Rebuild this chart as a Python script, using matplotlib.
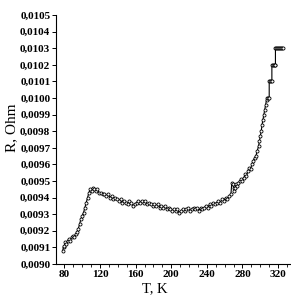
import matplotlib
matplotlib.use("Agg")
import matplotlib.pyplot as plt
from matplotlib.ticker import MultipleLocator, FuncFormatter

T = [78, 79, 80, 81, 82, 83.5, 85, 86.5, 88, 89.5, 91, 92.5, 94, 95.5, 97, 98.5,
     100, 101.5, 103, 104.5, 106, 107.5, 109, 110.5, 112, 113.5, 115, 117, 119,
     121, 123, 125, 127, 129, 131, 133, 135, 137, 139, 141, 143, 145, 147, 149,
     151, 153, 155, 157, 159, 161, 163, 165, 167, 169, 171, 173, 175, 177, 179,
     181, 183, 185, 187, 189, 191, 193, 195, 197, 199, 201, 203, 205, 207, 209,
     211, 213, 215, 217, 219, 221, 223, 225, 227, 229, 231, 233, 235, 237, 239,
     241, 243, 245, 247, 249, 251, 253, 255, 257, 259, 261, 263, 265, 267, 268,
     269, 270, 271, 272, 273, 274, 275.5, 277, 278.5, 280, 281.5, 283, 284.5,
     286, 287.5, 289, 290.5, 292, 293.5, 295, 296.5, 298, 299, 300, 301, 302,
     303, 304, 305, 306, 307, 308, 309, 310,
     310, 311, 312, 313,
     313, 314, 315, 316, 317,
     317, 318, 319, 320, 321, 322, 323, 324, 325]
R = [0.00908, 0.00910, 0.00911, 0.00913, 0.00912, 0.00914, 0.00915, 0.00914,
     0.00916, 0.00917, 0.00916, 0.00918, 0.00919, 0.00921, 0.00924, 0.00927,
     0.00929, 0.00931, 0.00934, 0.00937, 0.00940, 0.00943, 0.00945, 0.00944,
     0.00946, 0.00945, 0.00944, 0.00945, 0.00943, 0.00943, 0.00942, 0.00942,
     0.00941, 0.00942, 0.00940, 0.00941, 0.00939, 0.00940, 0.00939, 0.00938,
     0.00939, 0.00937, 0.00938, 0.00937, 0.00936, 0.00938, 0.00937, 0.00935,
     0.00936, 0.00937, 0.00938, 0.00937, 0.00938, 0.00937, 0.00938, 0.00936,
     0.00937, 0.00936, 0.00935, 0.00936, 0.00935, 0.00936, 0.00934, 0.00935,
     0.00934, 0.00935, 0.00933, 0.00934, 0.00933, 0.00932, 0.00933, 0.00932,
     0.00933, 0.00931, 0.00932, 0.00933, 0.00932, 0.00933, 0.00934, 0.00932,
     0.00933, 0.00934, 0.00933, 0.00934, 0.00932, 0.00934, 0.00933, 0.00934,
     0.00935, 0.00934, 0.00936, 0.00935, 0.00937, 0.00936, 0.00937, 0.00938,
     0.00937, 0.00939, 0.00938, 0.00940, 0.00939, 0.00941, 0.00942, 0.00949,
     0.00948, 0.00946, 0.00944, 0.00946, 0.00948, 0.00947, 0.00949, 0.00950,
     0.00951, 0.00950, 0.00952, 0.00954, 0.00953, 0.00956, 0.00958, 0.00957,
     0.00960, 0.00962, 0.00964, 0.00965, 0.00968, 0.00971, 0.00974, 0.00977,
     0.00980, 0.00984, 0.00987, 0.00990, 0.00993, 0.00996, 0.00999, 0.01000,
     0.01000, 0.01000,
     0.01010, 0.01010, 0.01010, 0.01010,
     0.01020, 0.01020, 0.01020, 0.01020, 0.01020,
     0.01030, 0.01030, 0.01030, 0.01030, 0.01030, 0.01030, 0.01030, 0.01030,
     0.01030]

x_ticks = [80, 120, 160, 200, 240, 280, 320]

plt.rcParams['font.family'] = ['Liberation Serif', 'DejaVu Serif']

fig = plt.figure(figsize=(2.91, 3.02), dpi=100)
ax = fig.add_axes([0.192, 0.126, 0.805, 0.824])
ax.plot(T, R, color='black', lw=0.8, marker='o', ms=2.2, mfc='white',
        mec='black', mew=0.6)

ax.set_xlim(70.4, 333.5)
ax.set_ylim(0.0090, 0.0105)
ax.set_xticks(x_ticks)
ax.xaxis.set_minor_locator(MultipleLocator(10))
ax.yaxis.set_major_locator(MultipleLocator(0.0001))
ax.yaxis.set_major_formatter(FuncFormatter(lambda v, p: f"{v:.4f}".replace('.', ',')))
for s in ['top', 'right']:
    ax.spines[s].set_visible(False)
for s in ['left', 'bottom']:
    ax.spines[s].set_linewidth(0.8)
ax.tick_params(axis='both', which='major', labelsize=8, length=3, width=0.7, pad=1)
ax.tick_params(axis='x', which='minor', length=2.5, width=0.6)
for lab in ax.get_xticklabels() + ax.get_yticklabels():
    lab.set_fontweight('bold')

ax.set_xlabel('T, K', fontsize=10.5, labelpad=1)
ax.xaxis.set_label_coords(0.423, -0.075)
ax.set_ylabel('R, Ohm', fontsize=11, labelpad=2)
ax.yaxis.set_label_coords(-0.16, 0.548)

fig.savefig('out.png', dpi=100)
